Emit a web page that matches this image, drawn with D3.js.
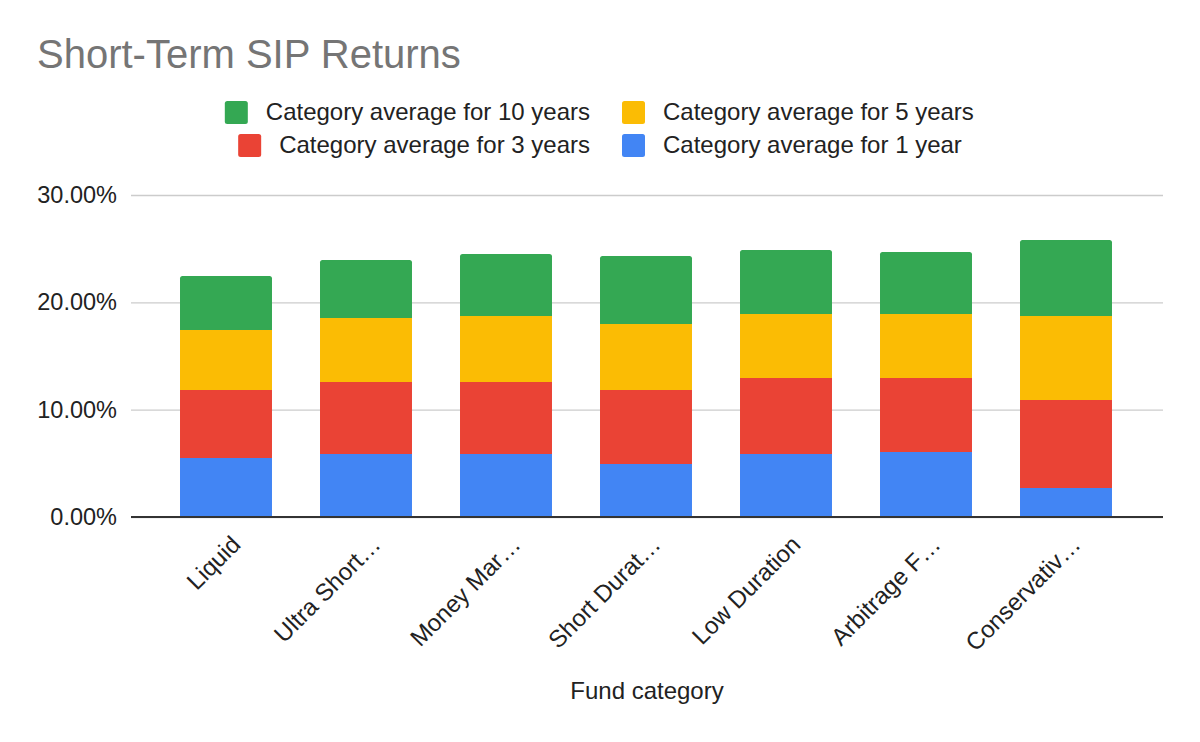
<!DOCTYPE html>
<html>
<head>
<meta charset="utf-8">
<script src="https://cdn.jsdelivr.net/npm/d3@7"></script>
<style>
  html, body { margin: 0; padding: 0; background: #fff; }
  svg { display: block; font-family: "Liberation Sans", Arial, Helvetica, sans-serif; }
</style>
</head>
<body>
<svg id="chart" width="1200" height="742"></svg>
<script>
// ---- Data ----
const categories = ["Liquid", "Ultra Short…", "Money Mar…", "Short Durat…", "Low Duration", "Arbitrage F…", "Conservativ…"];
const oneYear   = [5.50, 5.87, 5.87, 4.94, 5.87, 6.06, 2.70];
const threeYear = [6.33, 6.71, 6.71, 6.89, 7.08, 6.89, 8.20];
const fiveYear  = [5.59, 5.96, 6.15, 6.15, 5.96, 5.96, 7.83];
const tenYear   = [5.03, 5.40, 5.77, 6.34, 5.97, 5.78, 7.08];
const seriesNames = ["Category average for 1 year", "Category average for 3 years", "Category average for 5 years", "Category average for 10 years"];
const seriesKeys = ["y1", "y3", "y5", "y10"];
const seriesColors = ["#4285F4", "#EA4335", "#FBBC04", "#34A853"];
const yTicks = [0, 10, 20, 30];
const yTickLabels = ["0.00%", "10.00%", "20.00%", "30.00%"];
const chartTitle = "Short-Term SIP Returns";
const xAxisTitle = "Fund category";

// ---- Build table ----
const rows = categories.map((c, i) => ({ cat: c, y1: oneYear[i], y3: threeYear[i], y5: fiveYear[i], y10: tenYear[i] }));
const stacked = d3.stack().keys(seriesKeys)(rows);

const svg = d3.select("#chart");
const plotLeft = 131, plotRight = 1163, plotTop = 195, plotBottom = 517;
const FS = 24;

const x = d3.scaleBand().domain(categories).range([156, 1136]).paddingInner(0.343).paddingOuter(0.1715);
const y = d3.scaleLinear().domain([0, 30]).range([plotBottom, plotTop]);

// Title
svg.append("text").attr("x", 37).attr("y", 68)
  .attr("font-size", 40).attr("fill", "#757575").text(chartTitle);

// Gridlines
const yAxis = d3.axisLeft(y).tickValues(yTicks).tickSize(-(plotRight - plotLeft))
  .tickFormat((d, i) => yTickLabels[i]).tickPadding(14);
const gY = svg.append("g").attr("transform", `translate(${plotLeft},0)`).call(yAxis);
gY.select(".domain").remove();
gY.selectAll(".tick line").attr("stroke", "#cccccc").attr("stroke-width", 1.3);
gY.selectAll(".tick text").attr("font-size", 23.5).attr("fill", "#222").attr("font-family", "Liberation Sans, Arial, sans-serif");

// Bars
function roundTopRect(x0, y0, w, h, r) {
  r = Math.min(r, h);
  return `M${x0},${y0 + h}V${y0 + r}Q${x0},${y0} ${x0 + r},${y0}H${x0 + w - r}Q${x0 + w},${y0} ${x0 + w},${y0 + r}V${y0 + h}Z`;
}
stacked.forEach((layer, li) => {
  const isTop = li === stacked.length - 1;
  svg.append("g").attr("fill", seriesColors[li])
    .selectAll("path").data(layer).join("path")
    .attr("d", d => {
      const x0 = x(d.data.cat), w = x.bandwidth();
      const yt = y(d[1]), yb = y(d[0]);
      return isTop ? roundTopRect(x0, yt, w, yb - yt, 2.5) : `M${x0},${yb}V${yt}H${x0 + w}V${yb}Z`;
    });
});

// Baseline axis
const xAxis = d3.axisBottom(x).tickSize(0).tickPadding(0);
const gX = svg.append("g").attr("transform", `translate(0,${plotBottom})`).call(xAxis);
gX.select(".domain").remove();
svg.append("line").attr("x1", plotLeft).attr("x2", plotRight)
  .attr("y1", plotBottom).attr("y2", plotBottom)
  .attr("stroke", "#333").attr("stroke-width", 2);
gX.selectAll(".tick text")
  .attr("font-size", FS).attr("fill", "#222").attr("font-family", "Liberation Sans, Arial, sans-serif")
  .attr("text-anchor", "end")
  .attr("transform", "translate(16,29) rotate(-45)")
  .attr("y", 0).attr("dy", 0);

// X axis title
svg.append("text").attr("x", (plotLeft + plotRight) / 2).attr("y", 699)
  .attr("text-anchor", "middle").attr("font-size", FS).attr("fill", "#222").text(xAxisTitle);

// Legend
const legendRows = [
  { left: 3, right: 2 },  // row 1: 10 years | 5 years
  { left: 1, right: 0 }   // row 2: 3 years | 1 year
];
const legendBaselines = [120, 153];
const legend = svg.append("g");
legendRows.forEach((r, ri) => {
  const base = legendBaselines[ri];
  const t = legend.append("text").attr("x", 590).attr("y", base).attr("text-anchor", "end")
    .attr("font-size", FS).attr("fill", "#222").text(seriesNames[r.left]);
  const tw = t.node().getComputedTextLength();
  legend.append("rect").attr("x", 590 - tw - 18 - 23).attr("y", base - 19).attr("width", 23).attr("height", 23)
    .attr("rx", 2.5).attr("fill", seriesColors[r.left]);
  legend.append("rect").attr("x", 622).attr("y", base - 19).attr("width", 23).attr("height", 23)
    .attr("rx", 2.5).attr("fill", seriesColors[r.right]);
  legend.append("text").attr("x", 663).attr("y", base)
    .attr("font-size", FS).attr("fill", "#222").text(seriesNames[r.right]);
});
</script>
</body>
</html>
